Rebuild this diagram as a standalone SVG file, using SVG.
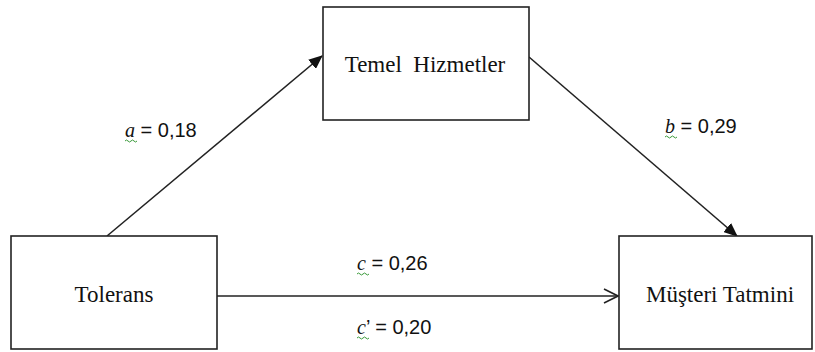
<svg xmlns="http://www.w3.org/2000/svg" width="815" height="352" viewBox="0 0 815 352">
<style>
.box{fill:#fff;stroke:#222;stroke-width:1.6}
.nt{font-family:"Liberation Serif","Times New Roman",serif;font-size:23px;fill:#111;text-anchor:middle}
.lb{font-family:"Liberation Sans",Arial,sans-serif;font-size:20px;fill:#111}
.it{font-family:"Liberation Serif","Times New Roman",serif;font-style:italic}
.ln{stroke:#222;stroke-width:1.6;fill:none}
.sq{stroke:#3a9a3a;stroke-width:1;fill:none}
</style>
<defs>
<marker id="fill" markerWidth="14" markerHeight="12" refX="13" refY="6" orient="auto" markerUnits="userSpaceOnUse">
<path d="M0,0 L14,6 L0,12 Z" fill="#111"/>
</marker>
<marker id="open" markerWidth="16" markerHeight="16" refX="15" refY="8" orient="auto" markerUnits="userSpaceOnUse">
<path d="M1,1 L15,8 L1,15" fill="none" stroke="#222" stroke-width="1.6"/>
</marker>
</defs>
<g id="connectors">
<line class="ln" x1="107" y1="236" x2="322" y2="56" marker-end="url(#fill)"/>
<line class="ln" x1="529" y1="57" x2="737" y2="236" marker-end="url(#fill)"/>
<line class="ln" x1="217" y1="296" x2="618" y2="296" marker-end="url(#open)"/>
</g>
<g id="temel">
<rect class="box" x="323" y="7" width="206" height="113"/>
<text class="nt" x="425" y="72" xml:space="preserve">Temel  Hizmetler</text>
</g>
<g id="tolerans">
<rect class="box" x="11" y="236" width="206" height="113"/>
<text class="nt" x="114" y="302">Tolerans</text>
</g>
<g id="musteri">
<rect class="box" x="619" y="236" width="193" height="113"/>
<text class="nt" x="720" y="302">Müşteri Tatmini</text>
</g>
<g id="labels">
<text class="lb" x="125" y="137"><tspan class="it">a</tspan> = 0,18</text>
<path class="sq" d="M125,141 q1.5,-2 3,0 t3,0 t3,0 t3,0"/>
<text class="lb" x="665" y="133"><tspan class="it">b</tspan> = 0,29</text>
<path class="sq" d="M665,137 q1.5,-2 3,0 t3,0 t3,0 t3,0"/>
<text class="lb" x="357" y="270"><tspan class="it">c</tspan> = 0,26</text>
<path class="sq" d="M357,274 q1.5,-2 3,0 t3,0 t3,0 t3,0"/>
<text class="lb" x="357" y="334"><tspan class="it">c</tspan>’ = 0,20</text>
<path class="sq" d="M357,338 q1.5,-2 3,0 t3,0 t3,0 t3,0"/>
</g>
</svg>
